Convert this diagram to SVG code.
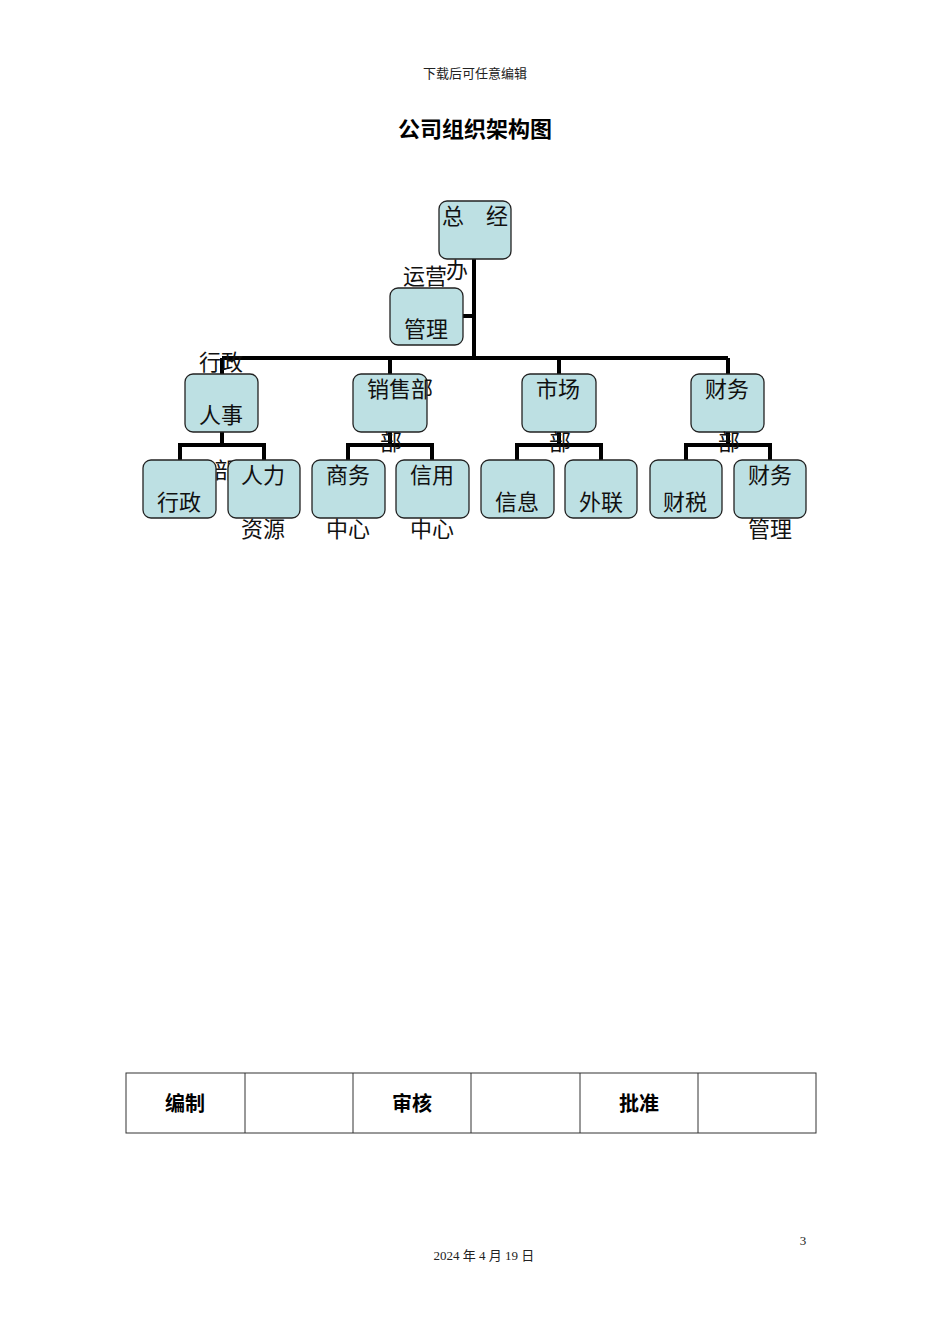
<svg xmlns="http://www.w3.org/2000/svg" width="950" height="1344" viewBox="0 0 950 1344">
<style>
.b{fill:#bde0e3;stroke:#222;stroke-width:1.3}
.t{font-family:"Noto Sans CJK SC",sans-serif;font-size:22px;fill:#111}
.c{fill:none;stroke:#000;stroke-width:4}
.s{font-family:"Liberation Serif","Noto Sans CJK SC",serif;font-size:13px;fill:#222}
.h{font-family:"Noto Sans CJK SC",sans-serif;font-size:20px;font-weight:bold;text-anchor:middle}
</style>
<rect width="950" height="1344" fill="#fff"/>
<text class="s" x="475" y="78" text-anchor="middle">下载后可任意编辑</text>
<text x="475" y="137" text-anchor="middle" font-family="Noto Sans CJK SC,sans-serif" font-size="22" font-weight="bold">公司组织架构图</text>
<g id="connectors">
<path class="c" d="M474 259V358M463 316H474M222 358H728M222 358V374M390 358V374M559 358V374M728 358V374"/>
<path class="c" d="M222 432V445M180 460V445H264V460M390 432V445M348 460V445H432V460M559 432V445M517 460V445H601V460M728 432V445M686 460V445H770V460"/>
</g>
<g id="n0"><rect class="b" x="439" y="201" width="72" height="58" rx="8"/><text class="t" x="442" y="224">总</text><text class="t" x="486" y="224">经</text><text class="t" x="446" y="278">办</text></g>
<g id="n1"><rect class="b" x="390" y="288" width="73" height="57" rx="8"/><text class="t" x="403" y="284">运营</text><text class="t" x="404" y="337">管理</text></g>
<g id="n2"><rect class="b" x="185" y="374" width="73" height="58" rx="8"/><text class="t" x="199" y="370">行政</text><text class="t" x="199" y="423">人事</text><text class="t" x="214" y="478">部</text></g>
<g id="n3"><rect class="b" x="353" y="374" width="74" height="58" rx="8"/><text class="t" x="367" y="397">销售部</text><text class="t" x="380" y="450">部</text></g>
<g id="n4"><rect class="b" x="522" y="374" width="74" height="58" rx="8"/><text class="t" x="536" y="397">市场</text><text class="t" x="549" y="450">部</text></g>
<g id="n5"><rect class="b" x="691" y="374" width="73" height="58" rx="8"/><text class="t" x="705" y="397">财务</text><text class="t" x="718" y="450">部</text></g>
<g id="n6"><rect class="b" x="143" y="460" width="73" height="58" rx="8"/><text class="t" x="157" y="510">行政</text></g>
<g id="n7"><rect class="b" x="228" y="460" width="72" height="58" rx="8"/><text class="t" x="241" y="483">人力</text><text class="t" x="241" y="537">资源</text></g>
<g id="n8"><rect class="b" x="312" y="460" width="73" height="58" rx="8"/><text class="t" x="326" y="483">商务</text><text class="t" x="326" y="537">中心</text></g>
<g id="n9"><rect class="b" x="396" y="460" width="73" height="58" rx="8"/><text class="t" x="410" y="483">信用</text><text class="t" x="410" y="537">中心</text></g>
<g id="n10"><rect class="b" x="481" y="460" width="73" height="58" rx="8"/><text class="t" x="495" y="510">信息</text></g>
<g id="n11"><rect class="b" x="565" y="460" width="72" height="58" rx="8"/><text class="t" x="579" y="510">外联</text></g>
<g id="n12"><rect class="b" x="650" y="460" width="72" height="58" rx="8"/><text class="t" x="663" y="510">财税</text></g>
<g id="n13"><rect class="b" x="734" y="460" width="72" height="58" rx="8"/><text class="t" x="748" y="483">财务</text><text class="t" x="748" y="537">管理</text></g>
<g id="table" fill="none" stroke="#333" stroke-width="1">
<rect x="126" y="1073" width="690" height="60"/>
<path d="M245 1073V1133M353 1073V1133M471 1073V1133M580 1073V1133M698 1073V1133"/>
</g>
<text class="h" x="185" y="1111">编制</text>
<text class="h" x="412" y="1111">审核</text>
<text class="h" x="639" y="1111">批准</text>
<text class="s" x="803" y="1245" text-anchor="middle">3</text>
<text class="s" x="484" y="1260" text-anchor="middle" xml:space="preserve">2024 年 4 月 19 日</text>
</svg>
